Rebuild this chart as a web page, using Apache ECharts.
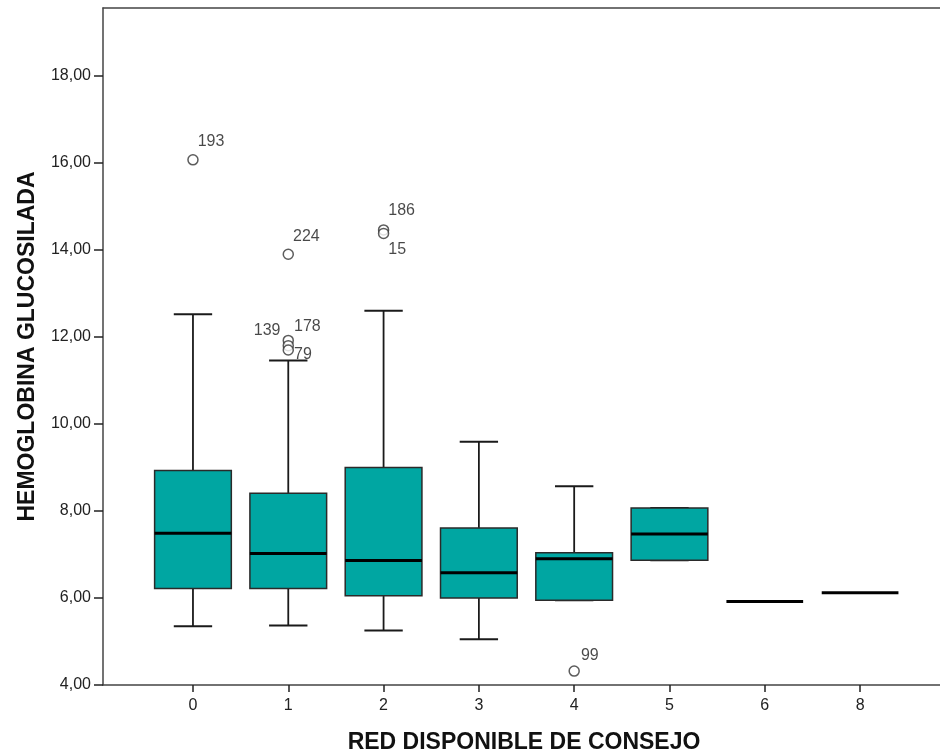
<!DOCTYPE html>
<html>
<head>
<meta charset="utf-8">
<script src="https://cdn.jsdelivr.net/npm/echarts@6/dist/echarts.min.js"></script>
<style>html,body{margin:0;padding:0;background:#fff;overflow:hidden;}#c{width:940px;height:753px;}</style>
</head>
<body>
<div id="c"></div>
<script>
// ---- data ----
const categories = ['0', '1', '2', '3', '4', '5', '6', '8'];
const whiskerLow = [5.35, 5.37, 5.25, 5.05, 5.95, 6.87, 5.92, 6.12];
const q1Values   = [6.22, 6.22, 6.05, 6.00, 5.95, 6.87, 5.92, 6.12];
const medians    = [7.49, 7.02, 6.86, 6.58, 6.90, 7.47, 5.92, 6.12];
const q3Values   = [8.93, 8.41, 9.00, 7.61, 7.04, 8.07, 5.92, 6.12];
const whiskerHigh= [12.52, 11.46, 12.60, 9.59, 8.57, 8.07, 5.92, 6.12];
const outlierCat = [0, 1, 1, 1, 1, 2, 2, 4];
const outlierVal = [16.07, 13.90, 11.92, 11.80, 11.70, 14.46, 14.38, 4.32];
const outlierIds = ['193', '224', '139', '178', '79', '186', '15', '99'];
const yTicks = [4, 6, 8, 10, 12, 14, 16, 18];

// ---- layout (label offsets per case id) ----
const labelPlace = {
  '193': {position: 'right', offset: [-4, -18]},
  '224': {position: 'right', offset: [-4, -18]},
  '186': {position: 'right', offset: [-4, -19]},
  '15':  {position: 'right', offset: [-4, 16]},
  '139': {position: 'left',  offset: [1, -10]},
  '178': {position: 'right', offset: [-3, -19]},
  '79':  {position: 'right', offset: [-3, 5]},
  '99':  {position: 'right', offset: [-2, -15]}
};

const yMin = 4, yMax = 19.56;
const xMin = -0.944, xMax = 7.891;
const fmt = v => v.toFixed(2).replace('.', ',');
const catIdx = categories.map((c, i) => i);

const boxData = categories.map((c, i) => [i, whiskerLow[i], q1Values[i], medians[i], q3Values[i], whiskerHigh[i]]);
const outData = outlierVal.map((v, i) => ({
  value: [outlierCat[i], v],
  label: Object.assign({show: true, formatter: outlierIds[i]}, labelPlace[outlierIds[i]])
}));

function renderBox(params, api) {
  const idx = api.value(0);
  const pLow = api.coord([idx, api.value(1)]);
  const pQ1 = api.coord([idx, api.value(2)]);
  const pMed = api.coord([idx, api.value(3)]);
  const pQ3 = api.coord([idx, api.value(4)]);
  const pHigh = api.coord([idx, api.value(5)]);
  const bw = api.size([1, 0])[0] * 0.805;
  const cx = pMed[0];
  const hw = bw / 2, cap = bw / 4;
  const lineStyle = {stroke: '#1a1a1a', lineWidth: 1.8};
  const children = [];
  if (pHigh[1] < pQ3[1] - 0.5) {
    children.push({type: 'line', shape: {x1: cx, y1: pQ3[1], x2: cx, y2: pHigh[1]}, style: lineStyle});
  }
  if (pLow[1] > pQ1[1] + 0.5) {
    children.push({type: 'line', shape: {x1: cx, y1: pQ1[1], x2: cx, y2: pLow[1]}, style: lineStyle});
  }
  if (pQ1[1] - pQ3[1] > 0.5) {
    children.push({type: 'line', shape: {x1: cx - cap, y1: pHigh[1], x2: cx + cap, y2: pHigh[1]}, style: {stroke: '#1a1a1a', lineWidth: 2}});
    children.push({type: 'line', shape: {x1: cx - cap, y1: pLow[1], x2: cx + cap, y2: pLow[1]}, style: {stroke: '#1a1a1a', lineWidth: 2}});
    children.push({type: 'rect', shape: {x: cx - hw, y: pQ3[1], width: bw, height: pQ1[1] - pQ3[1]},
      style: {fill: '#00A6A2', stroke: '#2a2a2a', lineWidth: 1.5}});
  }
  children.push({type: 'line', shape: {x1: cx - hw, y1: pMed[1], x2: cx + hw, y2: pMed[1]}, style: {stroke: '#000', lineWidth: 3}});
  return {type: 'group', children: children};
}

const chart = echarts.init(document.getElementById('c'), null, {renderer: 'canvas'});
chart.setOption({
  animation: false,
  backgroundColor: '#fff',
  grid: {left: 103, right: -5, top: 8, bottom: 68, containLabel: false, outerBoundsMode: 'none'},
  xAxis: [
    {type: 'value', min: xMin, max: xMax, position: 'bottom',
      name: 'RED DISPONIBLE DE CONSEJO', nameLocation: 'middle', nameGap: 46,
      nameTextStyle: {fontFamily: 'Liberation Sans', fontWeight: 'bold', fontSize: 23, color: '#111'},
      axisLine: {show: true, onZero: false, lineStyle: {color: '#444', width: 1.5}},
      axisTick: {show: true, length: 7, customValues: catIdx, lineStyle: {color: '#222', width: 1.5}},
      axisLabel: {fontFamily: 'Liberation Sans', fontSize: 16, color: '#222', margin: 13,
        customValues: catIdx, formatter: v => categories[Math.round(v)]},
      splitLine: {show: false}},
    {type: 'value', min: xMin, max: xMax, position: 'top',
      axisLine: {show: true, onZero: false, lineStyle: {color: '#444', width: 1.5}},
      axisTick: {show: false}, axisLabel: {show: false}, splitLine: {show: false}}
  ],
  yAxis: {type: 'value', min: yMin, max: yMax, interval: 2,
    name: 'HEMOGLOBINA GLUCOSILADA', nameLocation: 'middle', nameGap: 64, nameRotate: 90,
    nameTextStyle: {fontFamily: 'Liberation Sans', fontWeight: 'bold', fontSize: 23, color: '#111'},
    axisLine: {show: true, onZero: false, lineStyle: {color: '#444', width: 1.5}},
    axisTick: {show: true, length: 9, lineStyle: {color: '#222', width: 1.5}},
    axisLabel: {fontFamily: 'Liberation Sans', fontSize: 16, color: '#222', margin: 12,
      formatter: v => yTicks.indexOf(v) >= 0 ? fmt(v) : '', showMaxLabel: false},
    splitLine: {show: false}},
  series: [
    {type: 'custom', xAxisIndex: 0, yAxisIndex: 0, data: boxData, renderItem: renderBox,
      encode: {x: 0, y: [1, 2, 3, 4, 5]}, z: 2, clip: true},
    {type: 'scatter', xAxisIndex: 0, yAxisIndex: 0, data: outData, symbol: 'circle', symbolSize: 10,
      itemStyle: {color: '#fff', borderColor: '#333', borderWidth: 1.5},
      label: {fontFamily: 'Liberation Sans', fontSize: 16, color: '#1a1a1a', distance: 3},
      z: 3}
  ]
});
</script>
</body>
</html>
